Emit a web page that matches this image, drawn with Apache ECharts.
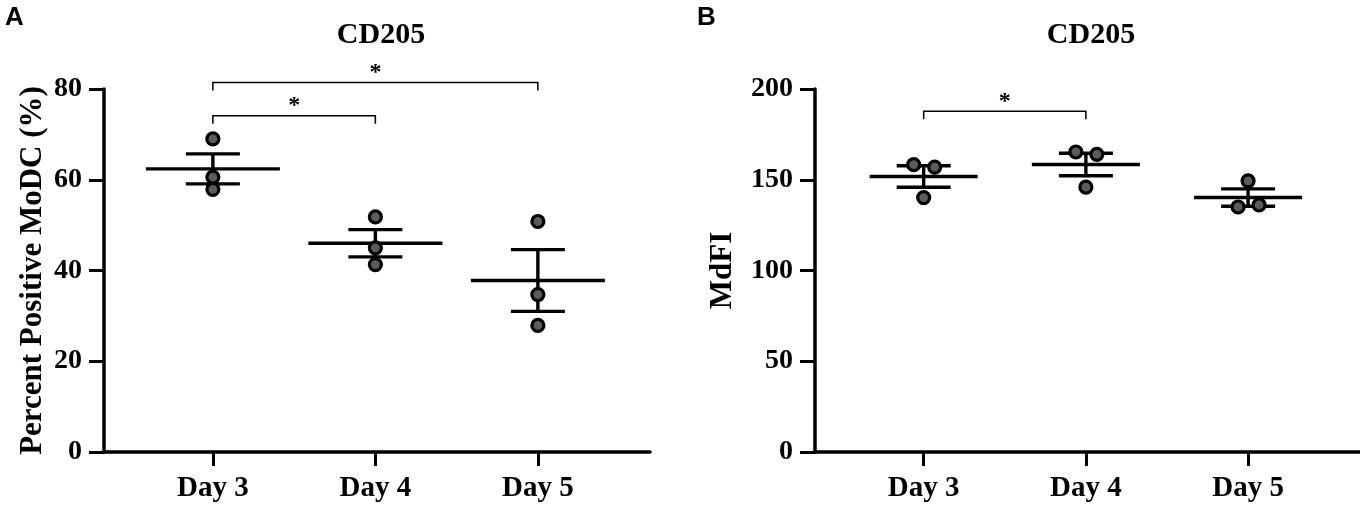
<!DOCTYPE html>
<html>
<head>
<meta charset="utf-8">
<script src="https://cdn.jsdelivr.net/npm/echarts@6/dist/echarts.min.js"></script>
<style>
  html, body { margin: 0; padding: 0; background: #fff; }
  #chart { width: 1360px; height: 506px; }
</style>
</head>
<body>
<div id="chart"></div>
<script>
// values
var days = ['Day 3', 'Day 4', 'Day 5'];
var yTicksA = [0, 20, 40, 60, 80];
var yTicksB = [0, 50, 100, 150, 200];

// panel A: percent positive MoDC, three donors per day
var pctDay3 = [69.0, 60.6, 57.9];
var pctDay4 = [51.8, 45.0, 41.3];
var pctDay5 = [50.8, 34.7, 27.9];
var pctMean = [62.4, 46.0, 37.8];
var pctSem = [3.3, 3.0, 6.8];

// panel B: MdFI
var mdfiDay3 = [158.3, 157.0, 140.2];
var mdfiDay4 = [165.3, 164.0, 145.9];
var mdfiDay5 = [149.4, 135.0, 136.1];
var mdfiMean = [151.8, 158.4, 140.2];
var mdfiSem = [5.9, 6.2, 4.8];

// significance brackets: [from day, to day, bracket height]
var sigA = [[1, 2, 74.1], [1, 3, 81.45]];
var sigB = [[1, 2, 187.7]];

var serif = "'Liberation Serif', 'Times New Roman', serif";
var sans = "'Liberation Sans', Arial, sans-serif";

var myChart = echarts.init(document.getElementById('chart'));

// spread points that would sit on top of each other (like prism does)
function jitter(groups, tol){
    var out = [];
    groups.forEach(function(vals, gi){
        var offs = vals.map(function(){ return 0; });
        for (var a = 0; a < vals.length; a++) {
            for (var b = a + 1; b < vals.length; b++) {
                if (Math.abs(vals[a] - vals[b]) < tol && offs[a] == 0 && offs[b] == 0) {
                    offs[a] = -10; offs[b] = 11;
                }
            }
        }
        vals.forEach(function(v, k){
            out.push({value: [gi + 1, v], symbolOffset: [offs[k], 0]});
        });
    });
    return out;
}

function dotSeries(idx, groups, tol){
    return {
        type: 'scatter', xAxisIndex: idx, yAxisIndex: idx, z: 5,
        symbol: 'circle', symbolSize: 12,
        itemStyle: {color: '#5c5c5c', borderColor: '#000', borderWidth: 3.2, opacity: 1},
        emphasis: {disabled: true},
        data: jitter(groups, tol)
    };
}

function meanSemSeries(idx, mean, sem, halfW){
    return {
        type: 'custom', xAxisIndex: idx, yAxisIndex: idx, z: 3,
        data: mean.map(function(m, i){ return [i + 1, m, sem[i]]; }),
        renderItem: function(params, api){
            var c = api.coord([api.value(0), api.value(1)]);
            var hi = api.coord([api.value(0), api.value(1) + api.value(2)]);
            var lo = api.coord([api.value(0), api.value(1) - api.value(2)]);
            var st = {stroke: '#000', lineWidth: 3.4};
            return {type: 'group', children: [
                {type: 'line', shape: {x1: c[0] - halfW, y1: c[1], x2: c[0] + halfW, y2: c[1]}, style: st},
                {type: 'line', shape: {x1: c[0], y1: hi[1], x2: c[0], y2: lo[1]}, style: st},
                {type: 'line', shape: {x1: c[0] - 27, y1: hi[1], x2: c[0] + 27, y2: hi[1]}, style: st},
                {type: 'line', shape: {x1: c[0] - 27, y1: lo[1], x2: c[0] + 27, y2: lo[1]}, style: st}
            ]};
        }
    };
}

function bracketSeries(idx, sig){
    return {
        type: 'custom', xAxisIndex: idx, yAxisIndex: idx, z: 4,
        data: sig,
        renderItem: function(params, api){
            var p1 = api.coord([api.value(0), api.value(2)]);
            var p2 = api.coord([api.value(1), api.value(2)]);
            return {type: 'group', children: [
                {type: 'polyline', shape: {points: [[p1[0], p1[1] + 8], [p1[0], p1[1]], [p2[0], p2[1]], [p2[0], p2[1] + 8]]},
                 style: {stroke: '#000', lineWidth: 1.5, fill: null}},
                {type: 'text', x: (p1[0] + p2[0]) / 2, y: p1[1] - 10,
                 style: {text: '*', fill: '#000', font: 'bold 24px ' + serif, align: 'center', verticalAlign: 'middle'}}
            ]};
        }
    };
}

function xAxisOpt(idx){
    return {
        type: 'value', gridIndex: idx, min: 0.33, max: 3.69,
        splitLine: {show: false},
        axisLine: {show: true, onZero: false, lineStyle: {color: '#000', width: 3.5}},
        axisTick: {show: true, customValues: [1, 2, 3], length: 14, lineStyle: {color: '#000', width: 3}},
        axisLabel: {customValues: [1, 2, 3], margin: 22, color: '#000', fontFamily: serif, fontWeight: 'bold', fontSize: 29,
            formatter: function(v){ return days[Math.round(v) - 1]; }}
    };
}

function yAxisOpt(idx, ticks, name, gap){
    return {
        type: 'value', gridIndex: idx, min: ticks[0], max: ticks[ticks.length - 1],
        interval: ticks[1] - ticks[0],
        name: name, nameLocation: 'middle', nameGap: gap,
        nameTextStyle: {color: '#000', fontFamily: serif, fontWeight: 'bold', fontSize: 31},
        splitLine: {show: false},
        axisLine: {show: true, lineStyle: {color: '#000', width: 3.5}},
        axisTick: {show: true, length: 15, lineStyle: {color: '#000', width: 3}},
        axisLabel: {margin: 22, color: '#000', fontFamily: serif, fontWeight: 'bold', fontSize: 28}
    };
}

option = {
    animation: false,
    title: [
        {text: 'A', left: 0, top: 0, textStyle: {fontFamily: sans, fontWeight: 'bold', fontSize: 26, color: '#000'}},
        {text: 'B', left: 692, top: 0, textStyle: {fontFamily: sans, fontWeight: 'bold', fontSize: 26, color: '#000'}},
        {text: 'CD205', left: 376, top: 15, textAlign: 'center', textStyle: {fontFamily: serif, fontWeight: 'bold', fontSize: 30, color: '#000'}},
        {text: 'CD205', left: 1086, top: 15, textAlign: 'center', textStyle: {fontFamily: serif, fontWeight: 'bold', fontSize: 30, color: '#000'}}
    ],
    grid: [
        {left: 104, top: 89, width: 546, height: 363},
        {left: 815, top: 89, width: 546, height: 363}
    ],
    xAxis: [xAxisOpt(0), xAxisOpt(1)],
    yAxis: [
        yAxisOpt(0, yTicksA, 'Percent Positive MoDC (%)', 56),
        yAxisOpt(1, yTicksB, 'MdFI', 77)
    ],
    series: [
        meanSemSeries(0, pctMean, pctSem, 67),
        dotSeries(0, [pctDay3, pctDay4, pctDay5], 0),
        bracketSeries(0, sigA),
        meanSemSeries(1, mdfiMean, mdfiSem, 54),
        dotSeries(1, [mdfiDay3, mdfiDay4, mdfiDay5], 3),
        bracketSeries(1, sigB)
    ]
};
myChart.setOption(option);
</script>
</body>
</html>
